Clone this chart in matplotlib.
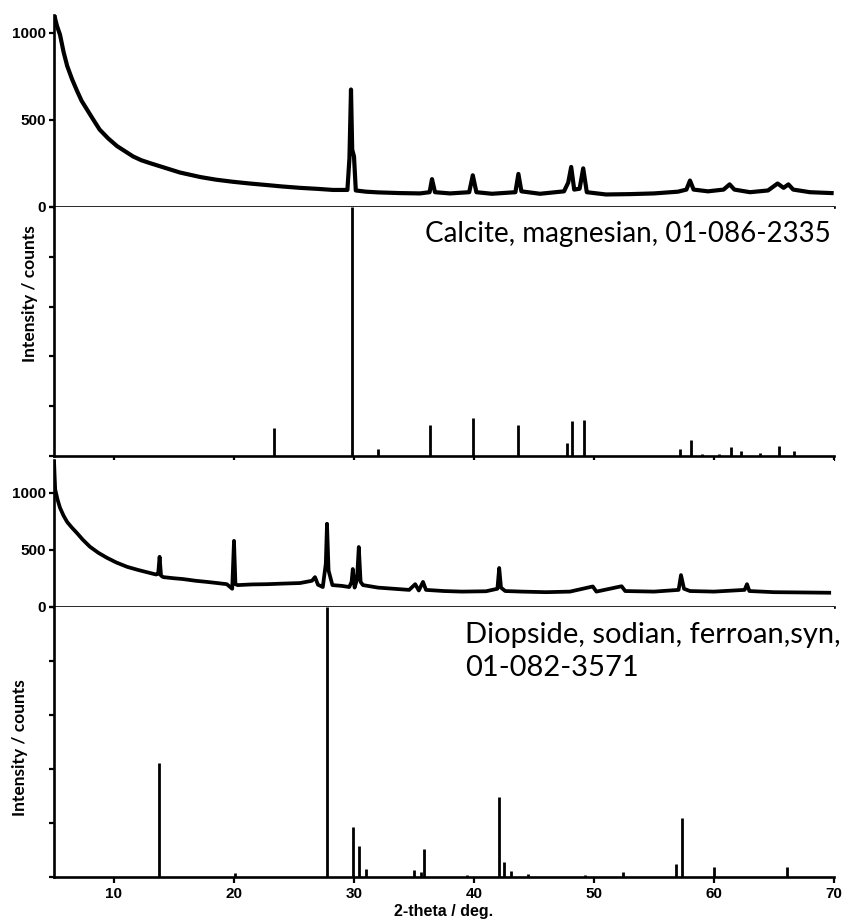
import matplotlib
matplotlib.use("Agg")
import matplotlib.pyplot as plt

# observed pattern 1 (calcite sample), 2-theta / counts
calc_obs_2t = [5.0, 5.1, 5.25, 5.5, 5.8, 6.1, 6.5, 6.9, 7.3, 7.75, 8.2, 8.8, 9.5, 10.25,
               11.6, 12.3, 13.0, 14.25, 15.5, 17.2, 18.5, 19.9, 21.3, 22.75, 24.0, 25.5,
               27.0, 28.25, 29.45, 29.62, 29.75, 29.85, 30.0, 30.15, 31.0, 32.0, 33.8, 35.5,
               36.3, 36.5, 36.75, 38.0, 39.6, 39.9, 40.2, 41.5, 43.45, 43.7, 43.95, 45.5,
               47.5, 47.85, 48.1, 48.35, 48.8, 49.1, 49.4, 51.0, 53.0, 55.0, 57.0, 57.7,
               58.0, 58.3, 59.5, 60.8, 61.3, 61.7, 63.0, 64.5, 65.3, 65.8, 66.2, 66.6,
               68.0, 69.8]
calc_obs_cts = [1120, 1080, 1040, 990, 890, 810, 735, 670, 610, 560, 510, 445, 395, 350,
                290, 268, 252, 225, 198, 172, 157, 145, 135, 126, 118, 110,
                104, 98, 98, 280, 675, 330, 290, 95, 88, 84, 80, 78,
                85, 160, 85, 78, 85, 182, 85, 76, 85, 190, 90, 76,
                90, 140, 230, 100, 105, 222, 85, 72, 74, 78, 88, 100,
                152, 100, 90, 100, 130, 100, 85, 95, 135, 110, 130, 100,
                85, 80]

# reference sticks: Calcite, magnesian 01-086-2335 (relative intensity)
calc_stick_2t = [23.3, 29.8, 32.0, 36.3, 39.9, 43.7, 47.75, 48.2, 49.2, 57.2, 58.1,
                 59.0, 60.4, 61.4, 62.25, 63.8, 65.4, 66.7]
calc_stick_int = [11.3, 100, 2.8, 12.5, 15.3, 12.5, 5.2, 14.1, 14.5, 2.8, 6.5,
                  1.0, 0.8, 3.6, 2.0, 1.2, 4.0, 2.0]

# observed pattern 2 (diopside sample)
diop_obs_2t = [5.0, 5.05, 5.1, 5.3, 5.5, 5.8, 6.1, 6.5, 6.9, 7.4, 8.0, 8.7, 9.4, 10.2,
               11.1, 12.0, 12.75, 13.5, 13.68, 13.8, 13.92, 14.1, 15.0, 15.75, 16.8,
               17.75, 18.6, 19.4, 19.85, 20.0, 20.12, 20.3, 21.5, 22.75, 24.0, 25.5,
               26.5, 26.75, 27.0, 27.4, 27.65, 27.75, 27.88, 28.2, 29.0, 29.6, 29.8,
               29.9, 30.05, 30.25, 30.4, 30.55, 30.75, 32.0, 34.6, 35.1, 35.4, 35.75,
               36.0, 37.5, 39.0, 41.0, 41.95, 42.1, 42.25, 42.6, 44.0, 46.0, 48.0, 49.9,
               50.2, 52.3, 52.6, 55.0, 57.05, 57.25, 57.5, 58.0, 60.0, 62.55, 62.75,
               62.95, 65.0, 67.0, 69.6]
diop_obs_cts = [1290, 1150, 1030, 940, 870, 800, 745, 695, 650, 590, 528, 475, 432, 390,
                352, 325, 305, 285, 290, 440, 275, 262, 252, 245, 230,
                220, 210, 200, 160, 580, 200, 192, 198, 200, 205, 210,
                230, 262, 195, 175, 380, 730, 320, 192, 185, 175, 220,
                333, 170, 240, 526, 220, 192, 170, 150, 200, 145, 220,
                150, 140, 135, 138, 160, 342, 170, 140, 135, 130, 135, 180,
                135, 182, 140, 135, 150, 280, 160, 140, 135, 150, 200,
                140, 130, 128, 125]

# reference sticks: Diopside, sodian, ferroan, syn 01-082-3571
diop_stick_2t = [13.75, 20.1, 27.75, 29.9, 30.4, 31.0, 35.0, 35.6, 35.8, 39.4, 42.1,
                 42.5, 43.1, 44.5, 49.25, 52.4, 56.8, 57.3, 60.0, 66.1]
diop_stick_int = [42.2, 1.5, 100, 18.5, 11.5, 3.0, 2.6, 2.0, 10.4, 0.8, 29.6,
                  5.6, 2.1, 1.0, 0.6, 2.0, 4.8, 21.9, 3.7, 3.7]

obs_ticks = [0, 500, 1000]
x_ticks = [10, 20, 30, 40, 50, 60, 70]

W, H = 844, 924
fig = plt.figure(figsize=(W / 100, H / 100), dpi=100)

left = 54 / W
width = 780 / W


def box(top_px, bottom_px):
    return [left, 1 - bottom_px / H, width, (bottom_px - top_px) / H]


ax1 = fig.add_axes(box(15, 207))
ax2 = fig.add_axes(box(207, 456))
ax3 = fig.add_axes(box(460, 607))
ax4 = fig.add_axes(box(607, 877))

tick_font = dict(family="Liberation Sans", weight="bold", size=11)
lw_spine = 1.9

for ax in (ax1, ax2, ax3, ax4):
    ax.set_xlim(5, 70)
    for s in ("top", "right"):
        ax.spines[s].set_visible(False)
    for s in ("left", "bottom"):
        ax.spines[s].set_linewidth(lw_spine)
    ax.tick_params(width=1.6, length=3.5, direction="out", pad=2)
    ax.set_xticks(x_ticks)
    ax.set_xticklabels([])

# thick line stands in for the noise band of the raw scan
ax1.plot(calc_obs_2t, calc_obs_cts, color="black", lw=3.0, solid_joinstyle="round")
ax1.set_ylim(0, 1103)
ax1.set_yticks(obs_ticks)
ax1.set_yticklabels([str(t) for t in obs_ticks], **tick_font)
ax1.tick_params(axis="x", length=0)

ax2.vlines(calc_stick_2t, 0, calc_stick_int, color="black", lw=2.0)
ax2.set_ylim(0, 100)
ax2.set_yticks([0, 20, 40, 60, 80, 100])
ax2.set_yticklabels([])

ax3.plot(diop_obs_2t, diop_obs_cts, color="black", lw=2.7, solid_joinstyle="round")
ax3.set_ylim(0, 1289)
ax3.set_yticks(obs_ticks)
ax3.set_yticklabels([str(t) for t in obs_ticks], **tick_font)
ax3.tick_params(axis="x", length=0)

ax4.vlines(diop_stick_2t, 0, diop_stick_int, color="black", lw=2.0)
ax4.set_ylim(0, 100)
ax4.set_yticks([0, 20, 40, 60, 80, 100])
ax4.set_yticklabels([])
ax4.set_xticklabels([str(t) for t in x_ticks], **tick_font)
ax4.tick_params(axis="x", length=4.5, pad=3)
ax4.set_xlabel("2-theta / deg.", family="Liberation Sans", weight="bold", size=11.5, labelpad=2)

lab_font = dict(family="Lato", weight="bold", size=12.5)
fig.text(30 / W, 1 - 294 / H, "Intensity / counts", rotation=90, ha="center", va="center", **lab_font)
fig.text(20 / W, 1 - 748 / H, "Intensity / counts", rotation=90, ha="center", va="center", **lab_font)

fig.text(831 / W, 1 - 234 / H, "Calcite, magnesian, 01-086-2335", ha="right", va="center",
         family="Lato", size=20)
fig.text(465 / W, 1 - 635 / H, "Diopside, sodian, ferroan,syn,", ha="left", va="center",
         family="Lato", size=21)
fig.text(465 / W, 1 - 668 / H, "01-082-3571", ha="left", va="center", family="Lato", size=21)

fig.savefig("out.png", dpi=100)
